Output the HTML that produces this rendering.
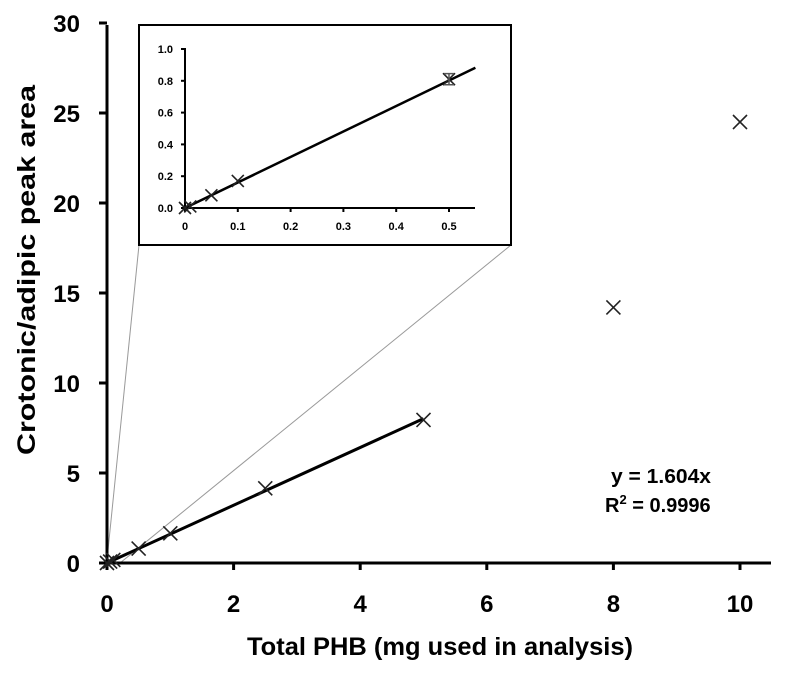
<!DOCTYPE html>
<html><head><meta charset="utf-8"><style>
body{margin:0;background:#fff}
svg{display:block;font-family:"Liberation Sans",sans-serif;font-weight:bold}
</style></head><body>
<svg id="c" width="795" height="674"></svg>
<script>
const xVals=[0,0.05,0.1,0.5,1,2.5,5,8,10];
const yVals=[0,0.08,0.17,0.8,1.65,4.15,7.95,14.2,24.5];
const insetX=[0,0.01,0.05,0.1,0.5];
const insetY=[0,0.01,0.08,0.17,0.81];
const xTicks=[0,2,4,6,8,10];
const yTicks=[0,5,10,15,20,25,30];
const ixTicks=[0,0.1,0.2,0.3,0.4,0.5];
const iyTicks=[0,0.2,0.4,0.6,0.8,1.0];
const slope=1.604;
const fitMax=5, insetFitMax=0.55;
const NS="http://www.w3.org/2000/svg";
const svg=document.getElementById('c');
function el(t,a,p){const e=document.createElementNS(NS,t);for(const k in a)e.setAttribute(k,a[k]);(p||svg).appendChild(e);return e;}
const X=v=>107+v*63.3, Y=v=>563-v*18;
const IX=v=>185+v*528, IY=v=>208-v*159;
function cross(x,y,s,g,n){const a=el('path',{d:`M${x-s},${y-s}L${x+s},${y+s}M${x-s},${y+s}L${x+s},${y-s}`,stroke:'#222','stroke-width':1.6,fill:'none'},g);}
let l=el('line',{x1:107,y1:560,x2:139,y2:245,stroke:'#999','stroke-width':1});

l=el('line',{x1:120,y1:563,x2:511,y2:245,stroke:'#999','stroke-width':1});

l=el('line',{x1:107,y1:25,x2:107,y2:565,stroke:'#000','stroke-width':3});

l=el('line',{x1:105,y1:563,x2:771,y2:563,stroke:'#000','stroke-width':3});

xTicks.forEach(t=>{const ln=el('line',{x1:X(t),y1:563,x2:X(t),y2:570,stroke:'#000','stroke-width':3});
const tx=el('text',{x:X(t),y:612,'font-size':24,'text-anchor':'middle'});tx.textContent=t;});
yTicks.forEach(t=>{const ln=el('line',{x1:99,y1:Y(t),x2:107,y2:Y(t),stroke:'#000','stroke-width':3});
const tx=el('text',{x:80,y:Y(t)+9,'font-size':24,'text-anchor':'end'});tx.textContent=t;});
let t=el('text',{x:247,y:655,'font-size':25,textLength:386,lengthAdjust:'spacingAndGlyphs'});t.textContent='Total PHB (mg used in analysis)';
t=el('text',{x:0,y:0,'font-size':25,textLength:370,lengthAdjust:'spacingAndGlyphs',transform:'translate(35,455) rotate(-90)'});t.textContent='Crotonic/adipic peak area';
l=el('line',{x1:X(0),y1:Y(0),x2:X(fitMax),y2:Y(slope*fitMax),stroke:'#000','stroke-width':3});

xVals.forEach((v,i)=>cross(X(v),Y(yVals[i]),7,svg,'data-point'));
t=el('text',{x:611,y:483,'font-size':20,textLength:100,lengthAdjust:'spacingAndGlyphs'});t.textContent='y = 1.604x';
t=el('text',{x:605,y:512,'font-size':20});t.innerHTML='R<tspan font-size="13" dy="-8">2</tspan><tspan dy="8"> = 0.9996</tspan>';
const g=el('g',{});
let r=el('rect',{x:139,y:25,width:372,height:220,fill:'#fff',stroke:'#000','stroke-width':2},g);
l=el('line',{x1:185,y1:48,x2:185,y2:209,stroke:'#000','stroke-width':2},g);
l=el('line',{x1:184,y1:208,x2:475,y2:208,stroke:'#000','stroke-width':2},g);
ixTicks.forEach(v=>{const ln=el('line',{x1:IX(v),y1:208,x2:IX(v),y2:212,stroke:'#000','stroke-width':2},g);
const tx=el('text',{x:IX(v),y:230,'font-size':11,'text-anchor':'middle'},g);tx.textContent=v;});
iyTicks.forEach(v=>{const ln=el('line',{x1:181,y1:IY(v),x2:185,y2:IY(v),stroke:'#000','stroke-width':2},g);
const tx=el('text',{x:173,y:IY(v)+4,'font-size':11,'text-anchor':'end'},g);tx.textContent=v.toFixed(1);});
l=el('line',{x1:IX(0),y1:IY(0),x2:IX(insetFitMax),y2:IY(slope*insetFitMax),stroke:'#000','stroke-width':2.5},g);
insetX.forEach((v,i)=>cross(IX(v),IY(insetY[i]),6,g,'inset-data-point'));
const eb=el('path',{d:`M${IX(0.5)-5},${IY(0.845)}h10M${IX(0.5)-5},${IY(0.775)}h10M${IX(0.5)},${IY(0.845)}V${IY(0.775)}`,stroke:'#555','stroke-width':1.5,fill:'none'},g);

</script>
</body></html>
